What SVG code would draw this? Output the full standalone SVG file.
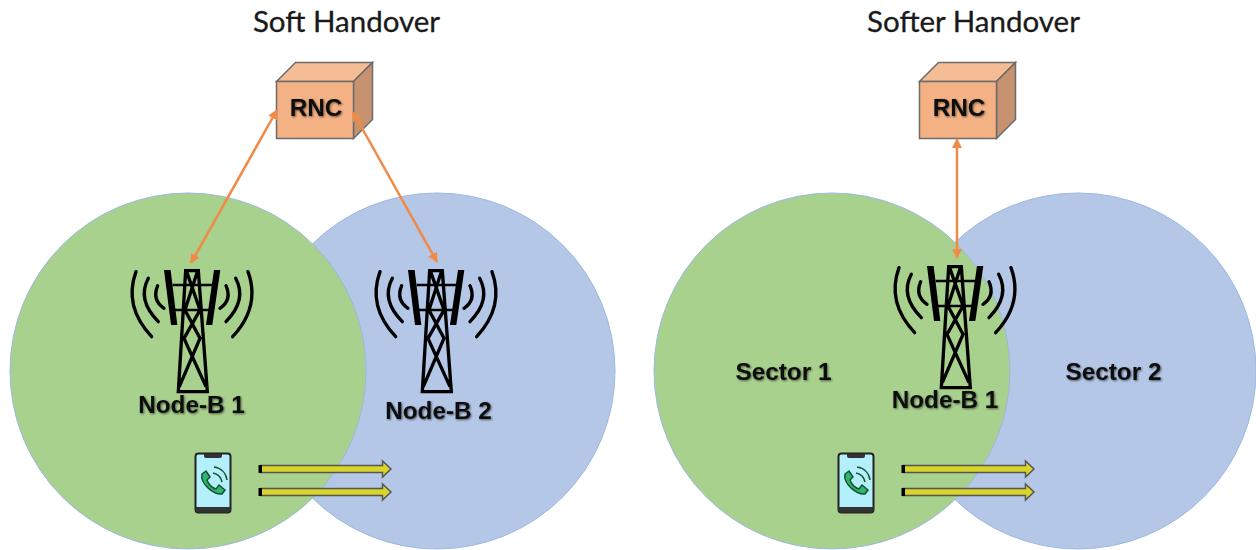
<svg xmlns="http://www.w3.org/2000/svg" width="1256" height="550" viewBox="0 0 1256 550">
<style>
.title{font-family:"Lato","Open Sans",sans-serif;font-size:29.500px;fill:#1a1a1a;text-anchor:middle;stroke:#1a1a1a;stroke-width:.3}
.lbl{font-family:"Liberation Sans",Arial,sans-serif;font-size:24.300px;font-weight:700;fill:#111;text-anchor:middle;filter:url(#sh)}
.green{fill:#a9d18e;stroke:#9db8e0;stroke-width:1}
.blue{fill:#b4c7e7;stroke:#9db8e0;stroke-width:1}
.conn{stroke:#f08a45;stroke-width:2.500;fill:none;marker-start:url(#ah);marker-end:url(#ah)}
.t{fill:none;stroke:#000;stroke-width:10;stroke-linejoin:miter}
.c{fill:none;stroke:#000;stroke-width:8}
.tb{fill:#000;stroke:none}
.w{fill:none;stroke:#000;stroke-width:10;stroke-linecap:round}
</style>
<defs>
<filter id="sh" x="-10%" y="-20%" width="125%" height="150%"><feDropShadow dx="1" dy="1" stdDeviation="1" flood-color="#000" flood-opacity=".55"/></filter>
<marker id="ah" viewBox="0 0 10 10" refX="9" refY="5" markerWidth="10" markerHeight="10" orient="auto-start-reverse" markerUnits="userSpaceOnUse"><path d="M0 0L10 5L0 10Z" fill="#f08a45"/></marker>
<g id="tower">
<path class="w" d="M48 65Q10 170 95 260"/>
<path class="w" d="M85 85Q50 150 115 215"/>
<path class="w" d="M113 107Q95 150 132 175"/>
<path class="w" d="M384 65Q422 170 338 260"/>
<path class="w" d="M347 85Q382 150 318 215"/>
<path class="w" d="M318 107Q337 150 300 175"/>
<path class="tb" d="M132 60H152L172 225H153Z"/>
<path class="tb" d="M282 60H301L277 225H258Z"/>
<path class="c" d="M158 105H280M165 180H272"/>
<path class="t" d="M197 62H235L262 425H175ZM200 65L240 180L192 265L258 410M232 65L195 180L240 265L178 410"/>
</g>
<symbol id="phone" viewBox="0 0 38 62" width="38" height="62" overflow="visible">
<rect x="1.500" y="1.500" width="35" height="59" rx="3" fill="#b3f0fb" stroke="#222" stroke-width="2"/>
<path d="M1.500 55H36.500V57.500Q36.500 60.500 33.500 60.500H4.500Q1.500 60.500 1.500 57.500Z" fill="#333"/>
<path d="M10 2H28V4Q28 6 26 6H12Q10 6 10 4Z" fill="#333"/>
<path d="M8 22L12 19L16 25L13 28C14 32 18 36 22 37L25 33L31 38L28 42C20 43 6 32 8 22Z" fill="#2fb673" stroke="#14532d" stroke-width="1.500"/>
<path d="M19 21C24 22 27 25 28 30M20 15C27 16 32 21 33 28" fill="none" stroke="#14532d" stroke-width="1.500"/>
</symbol>
<symbol id="yarrow" viewBox="0 0 133 16" width="133" height="16" overflow="visible">
<path d="M2 4.500H124V0L132.500 8L124 16V11.500H2Z" fill="#d8d42a" stroke="#555" stroke-width="1.500"/>
<rect x="0" y="4" width="3.500" height="8" fill="#000"/>
</symbol>
<symbol id="cube" viewBox="0 0 98 78" width="98" height="78" overflow="visible">
<path d="M0 19L19 0H96L77 19Z" fill="#f4bd95" stroke="#6b6b6b" stroke-width="1.500"/>
<path d="M77 19L96 0V57L77 76Z" fill="#c69270" stroke="#6b6b6b" stroke-width="1.500"/>
<rect x="0" y="19" width="77" height="57" fill="#f4b183" stroke="#6b6b6b" stroke-width="1.500"/>
</symbol>
</defs>
<rect width="1256" height="550" fill="#fff"/>
<g id="soft-title"><text class="title" x="346.500" y="32">Soft Handover</text></g>
<g id="softer-title"><text class="title" x="973.500" y="32">Softer Handover</text></g>
<g id="circle-nodeb2"><circle class="blue" cx="437" cy="371" r="178"/></g>
<g id="circle-nodeb1"><circle class="green" cx="188" cy="371" r="178"/></g>
<g id="circle-sector2"><circle class="blue" cx="1078" cy="371" r="178"/></g>
<g id="circle-sector1"><circle class="green" cx="832" cy="371" r="178"/></g>
<g id="rnc-left"><use href="#cube" x="276.500" y="62.500"/><text class="lbl" x="316" y="116">RNC</text></g>
<g id="rnc-right"><use href="#cube" x="919.500" y="62.500"/><text class="lbl" x="959" y="116">RNC</text></g>
<g id="connectors">
<line class="conn" x1="277" y1="110" x2="191" y2="263"/>
<line class="conn" x1="353" y1="112" x2="437" y2="262"/>
<line class="conn" x1="957" y1="139" x2="957" y2="258"/>
</g>
<g id="tower1"><use href="#tower" transform="translate(120 250) scale(.3333)"/><text class="lbl" x="191.500" y="413">Node-B 1</text></g>
<g id="tower2"><use href="#tower" transform="translate(364 250) scale(.3333)"/><text class="lbl" x="438.500" y="419">Node-B 2</text></g>
<g id="tower3"><use href="#tower" transform="translate(883 246) scale(.3333)"/><text class="lbl" x="945" y="408">Node-B 1</text></g>
<g id="sector1"><text class="lbl" x="783.500" y="380">Sector 1</text></g>
<g id="sector2"><text class="lbl" x="1113.500" y="380">Sector 2</text></g>
<g id="phone-left"><use href="#phone" x="194" y="452"/></g>
<g id="phone-right"><use href="#phone" x="837" y="452"/></g>
<g id="arrows-left"><use href="#yarrow" x="258.500" y="461"/><use href="#yarrow" x="258.500" y="484"/></g>
<g id="arrows-right"><use href="#yarrow" x="901.500" y="461"/><use href="#yarrow" x="901.500" y="484"/></g>
</svg>
